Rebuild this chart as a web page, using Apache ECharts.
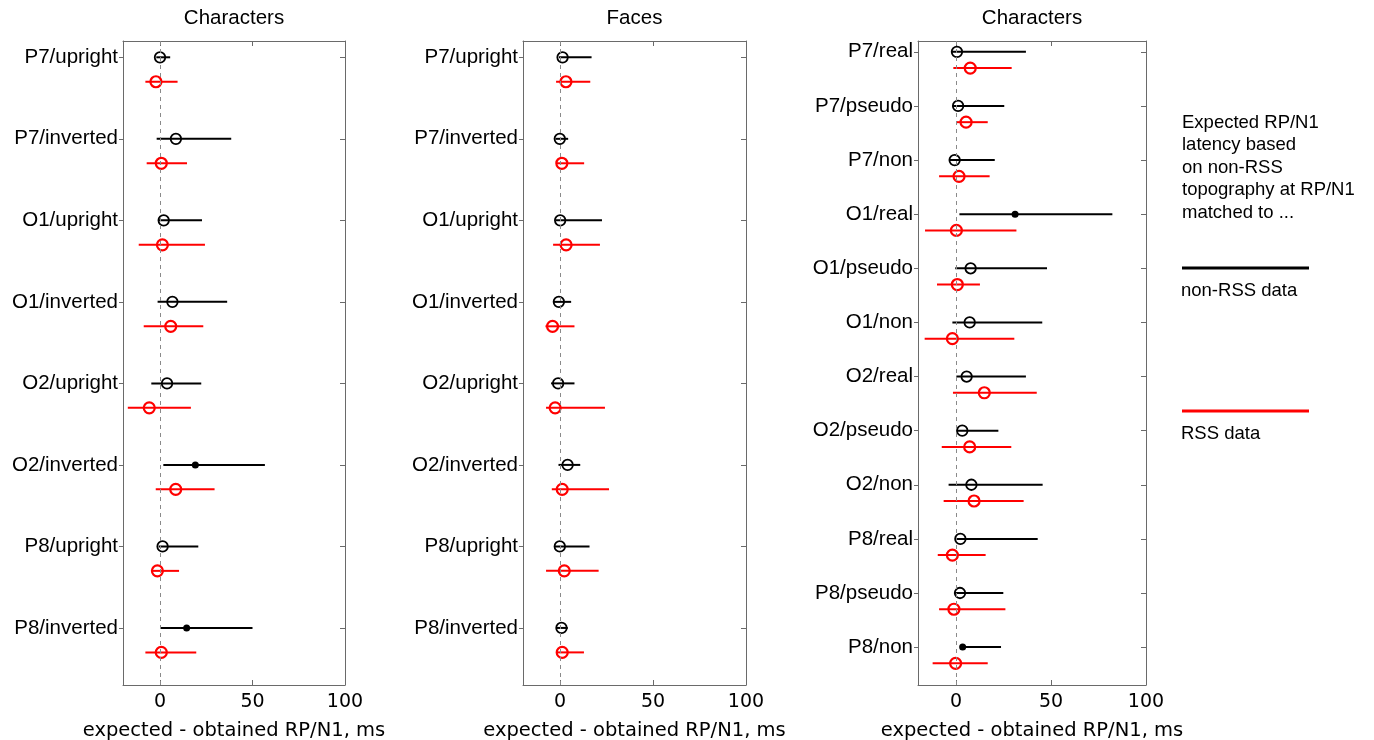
<!DOCTYPE html>
<html>
<head>
<meta charset="utf-8">
<title>RP/N1 latency</title>
<script src="https://cdn.jsdelivr.net/npm/echarts@6/dist/echarts.min.js"></script>
<style>
  html, body { margin: 0; padding: 0; background: #fff; }
  #chart { width: 1374px; height: 740px; }
</style>
</head>
<body>
<div id="chart"></div>
<script>
// ---- Panel 1: Characters, upright vs inverted ----
const charOrientLabels = ['P7/upright', 'P7/inverted', 'O1/upright', 'O1/inverted',
                          'O2/upright', 'O2/inverted', 'P8/upright', 'P8/inverted'];
const charOrientNonRssMean = [0, 8.6, 2.0, 6.7, 3.8, 19.1, 1.4, 14.4];
const charOrientNonRssLow  = [-2, -1.8, -0.7, -1.3, -4.7, 1.8, -0.7, 0.4];
const charOrientNonRssHigh = [5.5, 38.5, 22.7, 36.3, 22.3, 56.7, 20.7, 50];
const charOrientNonRssSig  = [0, 0, 0, 0, 0, 1, 0, 1];
const charOrientRssMean = [-2.2, 0.7, 1.3, 5.8, -5.8, 8.5, -1.4, 0.7];
const charOrientRssLow  = [-7.9, -7.2, -11.5, -8.8, -17.4, -2.3, -4.3, -7.9];
const charOrientRssHigh = [9.5, 14.6, 24.3, 23.4, 16.7, 29.5, 10.3, 19.6];

// ---- Panel 2: Faces, upright vs inverted ----
const faceLabels = ['P7/upright', 'P7/inverted', 'O1/upright', 'O1/inverted',
                    'O2/upright', 'O2/inverted', 'P8/upright', 'P8/inverted'];
const faceNonRssMean = [1.3, -0.2, 0, -0.7, -1.1, 4.0, -0.2, 0.7];
const faceNonRssLow  = [-0.7, -2.5, -2.5, -3.4, -4.9, -0.9, -2.9, -1.8];
const faceNonRssHigh = [16.9, 4.3, 22.5, 5.9, 7.7, 10.8, 15.8, 4.1];
const faceNonRssSig  = [0, 0, 0, 0, 0, 0, 0, 0];
const faceRssMean = [3.1, 0.9, 3.2, -4.1, -2.7, 1.1, 2.2, 1.1];
const faceRssLow  = [-2.2, -1.8, -3.8, -7.9, -7.6, -4.5, -7.6, -1.8];
const faceRssHigh = [16.2, 12.9, 21.4, 7.7, 24.1, 26.3, 20.7, 12.8];

// ---- Panel 3: Characters, real / pseudo / non ----
const charLexLabels = ['P7/real', 'P7/pseudo', 'P7/non', 'O1/real', 'O1/pseudo', 'O1/non',
                       'O2/real', 'O2/pseudo', 'O2/non', 'P8/real', 'P8/pseudo', 'P8/non'];
const charLexNonRssMean = [0.5, 1.1, -0.7, 31.1, 7.7, 7.2, 5.6, 3.3, 8.1, 2.3, 2.1, 3.5];
const charLexNonRssLow  = [-2.3, -1.8, -3.3, 1.8, -0.4, -1.9, 0.2, 0.4, -3.9, -0.4, -0.5, 2.1];
const charLexNonRssHigh = [36.8, 25.4, 20.4, 82.3, 47.9, 45.4, 36.8, 22.3, 45.6, 43, 24.9, 23.7];
const charLexNonRssSig  = [0, 0, 0, 1, 0, 0, 0, 0, 0, 0, 0, 1];
const charLexRssMean = [7.5, 5.3, 1.6, 0.2, 0.7, -1.9, 14.9, 7.2, 9.5, -1.9, -1.1, -0.2];
const charLexRssLow  = [-1.4, 0.4, -8.9, -16.3, -10, -16.5, -1.6, -7.5, -6.5, -9.6, -8.9, -12.3];
const charLexRssHigh = [29.3, 16.7, 17.7, 31.8, 12.6, 30.7, 42.5, 29.1, 35.6, 15.6, 26, 16.7];

const panelTitles = ['Characters', 'Faces', 'Characters'];
const xTicks = [0, 50, 100];
const xAxisName = 'expected - obtained RP/N1, ms';
const legendNote = ['Expected RP/N1', 'latency based', 'on non-RSS', 'topography at RP/N1', 'matched to ...'];
const legendNonRss = 'non-RSS data';
const legendRss = 'RSS data';

const panels = [
  { labels: charOrientLabels, bm: charOrientNonRssMean, bl: charOrientNonRssLow, bh: charOrientNonRssHigh, sig: charOrientNonRssSig,
    rm: charOrientRssMean, rl: charOrientRssLow, rh: charOrientRssHigh },
  { labels: faceLabels, bm: faceNonRssMean, bl: faceNonRssLow, bh: faceNonRssHigh, sig: faceNonRssSig,
    rm: faceRssMean, rl: faceRssLow, rh: faceRssHigh },
  { labels: charLexLabels, bm: charLexNonRssMean, bl: charLexNonRssLow, bh: charLexNonRssHigh, sig: charLexNonRssSig,
    rm: charLexRssMean, rl: charLexRssLow, rh: charLexRssHigh }
];

// grid boxes in pixels
const boxes = [
  { left: 123, width: 222 },
  { left: 523, width: 223 },
  { left: 918, width: 228 }
];
const plotTop = 41, plotHeight = 644;
const RSS_OFFSET = 0.3;
const BLACK = '#000000', RED = '#ff0000', FRAME = '#6a6a6a';
const labelFont = "'Liberation Sans', Arial, sans-serif";
const numFont = "'DejaVu Sans', sans-serif";

function bar(color) {
  return function (params, api) {
    const a = api.coord([api.value(0), api.value(2)]);
    const b = api.coord([api.value(1), api.value(2)]);
    return {
      type: 'line',
      shape: { x1: a[0], y1: a[1], x2: b[0], y2: b[1] },
      style: { stroke: color, lineWidth: 2 }
    };
  };
}

const frameLine = { show: true, onZero: false, lineStyle: { color: FRAME, width: 1 } };
const grid = [], xAxis = [], yAxis = [], series = [], title = [];

panels.forEach((p, g) => {
  const n = p.labels.length;
  const idx = p.labels.map((_, i) => i);
  grid.push({ left: boxes[g].left, width: boxes[g].width, top: plotTop, height: plotHeight,
              containLabel: false, outerBoundsMode: 'none' });

  title.push({
    text: panelTitles[g],
    left: boxes[g].left + boxes[g].width / 2,
    textAlign: 'center',
    top: 8,
    padding: 0,
    textStyle: { fontFamily: labelFont, fontSize: 20.5, fontWeight: 'normal', color: '#000' }
  });

  // bottom x axis with labels and name
  xAxis.push({
    type: 'value', gridIndex: g, min: -20, max: 100, position: 'bottom',
    axisLine: frameLine,
    axisTick: { show: true, inside: true, length: 5, customValues: xTicks, lineStyle: { color: FRAME } },
    axisLabel: { customValues: xTicks, margin: 8, fontFamily: numFont, fontSize: 19, color: '#000' },
    splitLine: { show: false },
    name: xAxisName, nameLocation: 'middle', nameGap: 36,
    nameTextStyle: { fontFamily: numFont, fontSize: 19.5, color: '#000' }
  });
  // top x axis (frame + inward ticks)
  xAxis.push({
    type: 'value', gridIndex: g, min: -20, max: 100, position: 'top',
    axisLine: frameLine,
    axisTick: { show: true, inside: true, length: 5, customValues: xTicks, lineStyle: { color: FRAME } },
    axisLabel: { show: false },
    splitLine: { show: false }
  });
  // left y axis with row labels
  yAxis.push({
    type: 'value', gridIndex: g, inverse: true, min: -0.2, max: n - RSS_OFFSET, position: 'left',
    axisLine: frameLine,
    axisTick: { show: true, inside: false, length: 4, customValues: idx, lineStyle: { color: FRAME } },
    axisLabel: {
      customValues: idx, margin: 5,
      formatter: v => p.labels[Math.round(v)],
      fontFamily: labelFont, fontSize: 20.5, color: '#000'
    },
    splitLine: { show: false }
  });
  // right y axis (frame + inward ticks)
  yAxis.push({
    type: 'value', gridIndex: g, inverse: true, min: -0.2, max: n - RSS_OFFSET, position: 'right',
    axisLine: frameLine,
    axisTick: { show: true, inside: true, length: 5, customValues: idx, lineStyle: { color: FRAME } },
    axisLabel: { show: false },
    splitLine: { show: false }
  });

  const xi = g * 2, yi = g * 2;

  // whiskers
  series.push({
    type: 'custom', name: 'non-RSS', xAxisIndex: xi, yAxisIndex: yi,
    renderItem: bar(BLACK), encode: { x: [0, 1], y: 2 },
    data: idx.map(i => [p.bl[i], p.bh[i], i]),
    z: 3,
    markLine: {
      silent: true, symbol: ['none', 'none'], label: { show: false },
      lineStyle: { type: [4, 4], color: '#8a8a8a', width: 1 },
      data: [{ xAxis: 0 }]
    }
  });
  series.push({
    type: 'custom', name: 'RSS', xAxisIndex: xi, yAxisIndex: yi,
    renderItem: bar(RED), encode: { x: [0, 1], y: 2 },
    data: idx.map(i => [p.rl[i], p.rh[i], i + RSS_OFFSET]),
    z: 3
  });
  // means
  series.push({
    type: 'scatter', xAxisIndex: xi, yAxisIndex: yi, symbol: 'circle', symbolSize: 10.5,
    itemStyle: { color: 'rgba(0,0,0,0)', borderColor: BLACK, borderWidth: 1.8, opacity: 1 },
    data: idx.filter(i => !p.sig[i]).map(i => [p.bm[i], i]),
    z: 4
  });
  series.push({
    type: 'scatter', xAxisIndex: xi, yAxisIndex: yi, symbol: 'circle', symbolSize: 7,
    itemStyle: { color: BLACK, opacity: 1 },
    data: idx.filter(i => p.sig[i]).map(i => [p.bm[i], i]),
    z: 4
  });
  series.push({
    type: 'scatter', xAxisIndex: xi, yAxisIndex: yi, symbol: 'circle', symbolSize: 11,
    itemStyle: { color: 'rgba(0,0,0,0)', borderColor: RED, borderWidth: 2.2, opacity: 1 },
    data: idx.map(i => [p.rm[i], i + RSS_OFFSET]),
    z: 4
  });
});

// legend / explanation on the right
const graphic = [];
legendNote.forEach((t, k) => {
  graphic.push({
    type: 'text', left: 1182, top: 113 + k * 22.5,
    style: { text: t, fontFamily: labelFont, fontSize: 18.5, fill: '#000' }
  });
});
graphic.push({ type: 'line', shape: { x1: 1182, y1: 268, x2: 1309, y2: 268 }, style: { stroke: BLACK, lineWidth: 3 } });
graphic.push({ type: 'text', left: 1181, top: 281, style: { text: legendNonRss, fontFamily: labelFont, fontSize: 18.5, fill: '#000' } });
graphic.push({ type: 'line', shape: { x1: 1182, y1: 411, x2: 1309, y2: 411 }, style: { stroke: RED, lineWidth: 3 } });
graphic.push({ type: 'text', left: 1181, top: 424, style: { text: legendRss, fontFamily: labelFont, fontSize: 18.5, fill: '#000' } });

const chart = echarts.init(document.getElementById('chart'), null, { renderer: 'canvas' });
chart.setOption({
  backgroundColor: '#ffffff',
  animation: false,
  title, grid, xAxis, yAxis, series, graphic
});
</script>
</body>
</html>
